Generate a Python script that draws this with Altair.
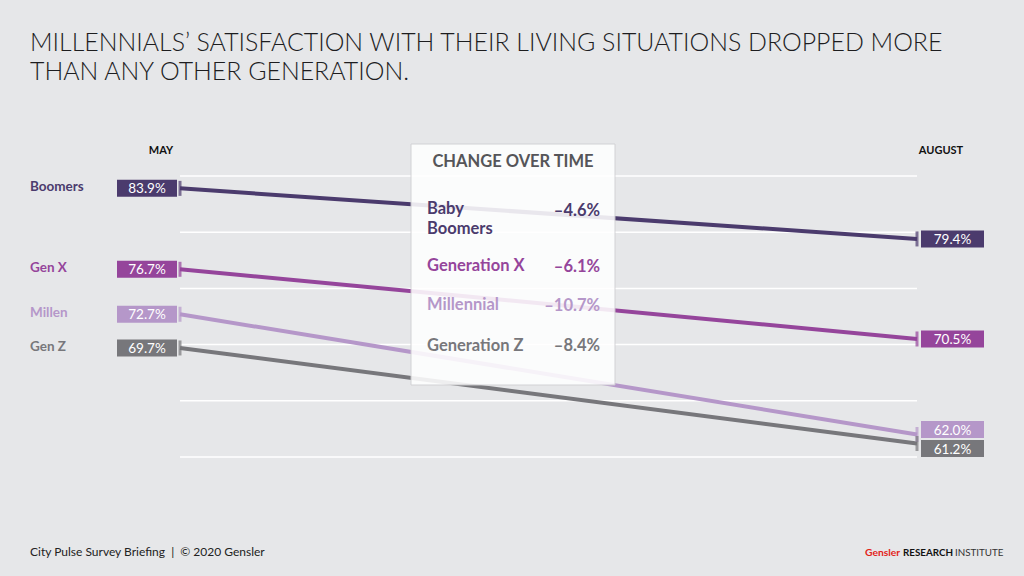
import altair as alt
import pandas as pd

# ---------------- data ----------------
generations = ["Boomers", "Gen X", "Millen", "Gen Z"]
legend_names = ["Baby\nBoomers", "Generation X", "Millennial", "Generation Z"]
may_values = [83.9, 76.7, 72.7, 69.7]
august_values = [79.4, 70.5, 62.0, 61.2]
change_labels = ["–4.6%", "–6.1%", "–10.7%", "–8.4%"]
period_labels = ["MAY", "AUGUST"]
grid_values = [85, 80, 75, 70, 65, 60]
colors = ["#4b3b6d", "#95459b", "#b597c9", "#77777b"]

title_lines = [
    "MILLENNIALS’ SATISFACTION WITH THEIR LIVING SITUATIONS DROPPED MORE",
    "THAN ANY OTHER GENERATION.",
]
legend_title = "CHANGE OVER TIME"
footer_left = "City Pulse Survey Briefing  |  © 2020 Gensler"
footer_right = ["Gensler", "RESEARCH", "INSTITUTE"]

# ---------------- layout helpers ----------------
W, H = 1024, 576
X0, X1 = 180, 917          # pixel range of the two periods
Y_TOP, Y_BOT = 176, 457    # pixel range of the value domain
FONT = "Lato"
BG = "#e6e7e9"

px_x = 1.0 / (X1 - X0)                       # period units per pixel
px_y = (max(grid_values) - min(grid_values)) / (Y_BOT - Y_TOP)  # value units per pixel

rows = []
for g, a, b in zip(generations, may_values, august_values):
    rows.append({"gen": g, "period": 0, "value": a})
    rows.append({"gen": g, "period": 1, "value": b})
df = pd.DataFrame(rows)
df["label"] = df["value"].map(lambda v: f"{v:.1f}%")

# simple label de-overlap (label centre positions, lines stay on true values)
min_gap = 19 * px_y
df["label_pos"] = df["value"]
for p in (0, 1):
    sub = df[df.period == p].sort_values("value", ascending=False)
    idx = list(sub.index)
    for i in range(1, len(idx)):
        a, b = idx[i - 1], idx[i]
        gap = df.at[a, "label_pos"] - df.at[b, "label_pos"]
        if gap < min_gap:
            mid = (df.at[a, "label_pos"] + df.at[b, "label_pos"]) / 2
            df.at[a, "label_pos"] = mid + min_gap / 2
            df.at[b, "label_pos"] = mid - min_gap / 2

box_h = 17 * px_y
left_box = (-63 * px_x, -3 * px_x)
right_box = (4 * px_x, 67 * px_x)

xs = alt.Scale(domain=[0, 1], range=[X0, X1])
ys = alt.Scale(domain=[min(grid_values), max(grid_values)], range=[Y_BOT, Y_TOP])
cs = alt.Scale(domain=generations, range=colors)

base = alt.Chart(df)

grid = alt.Chart(pd.DataFrame({"g": grid_values, "a": 0, "b": 1})).mark_rule(
    color="white", strokeWidth=1.5
).encode(
    y=alt.Y("g:Q", scale=ys, axis=None),
    x=alt.X("a:Q", scale=xs, axis=None),
    x2="b:Q",
)

lines = base.mark_line(strokeWidth=4, strokeCap="butt").encode(
    x=alt.X("period:Q", scale=xs, axis=None),
    y=alt.Y("value:Q", scale=ys, axis=None),
    color=alt.Color("gen:N", scale=cs, legend=None),
    detail="gen:N",
)

caps = base.mark_tick(orient="vertical", size=15, thickness=3).encode(
    x=alt.X("period:Q", scale=xs),
    y=alt.Y("value:Q", scale=ys),
    color=alt.Color("gen:N", scale=cs, legend=None),
)

boxes = base.transform_calculate(
    bx0=f"datum.period == 0 ? {left_box[0]} : 1 + {right_box[0]}",
    bx1=f"datum.period == 0 ? {left_box[1]} : 1 + {right_box[1]}",
    by0=f"datum.label_pos - {box_h / 2}",
    by1=f"datum.label_pos + {box_h / 2}",
).transform_calculate(
    bxc="(datum.bx0 + datum.bx1) / 2",
)

value_boxes = boxes.mark_rect().encode(
    x=alt.X("bx0:Q", scale=xs),
    x2="bx1:Q",
    y=alt.Y("by0:Q", scale=ys),
    y2="by1:Q",
    color=alt.Color("gen:N", scale=cs, legend=None),
)

value_text = boxes.mark_text(
    font=FONT, fontSize=13.5, color="white", baseline="middle", dy=1
).encode(
    x=alt.X("bxc:Q", scale=xs),
    y=alt.Y("label_pos:Q", scale=ys),
    text="label:N",
)

left_names = base.transform_filter("datum.period == 0").mark_text(
    font=FONT, fontSize=13.5, fontWeight="bold", align="left", baseline="middle", dy=-1
).encode(
    x=alt.value(30),
    y=alt.Y("label_pos:Q", scale=ys),
    text="gen:N",
    color=alt.Color("gen:N", scale=cs, legend=None),
)

period_df = pd.DataFrame({"period": [0, 1], "name": period_labels})
period_text = alt.Chart(period_df).transform_calculate(
    px=f"datum.period == 0 ? {-19 * px_x} : 1 + {24 * px_x}"
).mark_text(
    font=FONT, fontSize=11, fontWeight="bold", color="#111", baseline="middle"
).encode(
    x=alt.X("px:Q", scale=xs),
    y=alt.value(151),
    text="name:N",
)

# ---- change-over-time panel ----
panel = alt.Chart(pd.DataFrame({"a": [0]})).mark_rect(
    fill="white", opacity=0.88, stroke="#cfcfd2", strokeWidth=1
).encode(
    x=alt.value(411), x2=alt.value(615), y=alt.value(144), y2=alt.value(385)
)
panel_title = alt.Chart(pd.DataFrame({"t": [legend_title]})).mark_text(
    font=FONT, fontSize=16.5, fontWeight="bold", color="#555559", baseline="middle"
).encode(x=alt.value(513), y=alt.value(162), text="t:N")

name_y = [209, 266, 305, 346]
value_y = [211, 267, 306, 346]
panel_layers = []
for name, chg, col, ny, vy in zip(legend_names, change_labels, colors, name_y, value_y):
    d = pd.DataFrame({"n": [name], "c": [chg]})
    panel_layers.append(
        alt.Chart(d).mark_text(
            font=FONT, fontSize=16.5, fontWeight="bold", color=col, align="left",
            baseline="middle", lineBreak="\n", lineHeight=20
        ).encode(x=alt.value(427), y=alt.value(ny), text="n:N")
    )
    panel_layers.append(
        alt.Chart(d).mark_text(
            font=FONT, fontSize=16.5, fontWeight="bold", color=col, align="right",
            baseline="middle"
        ).encode(x=alt.value(600), y=alt.value(vy), text="c:N")
    )

# ---- title & footer ----
title_layers = []
for t, y in zip(title_lines, [51, 80]):
    title_layers.append(
        alt.Chart(pd.DataFrame({"t": [t]})).mark_text(
            font=FONT, fontSize=24.9, fontWeight=300, color="#1d1d1f", align="left",
            baseline="alphabetic"
        ).encode(x=alt.value(30), y=alt.value(y), text="t:N")
    )

footer = alt.Chart(pd.DataFrame({"t": [footer_left.replace("  ", "\u00a0 ")]})).mark_text(
    font=FONT, fontSize=12, color="#222", align="left", baseline="alphabetic"
).encode(x=alt.value(30), y=alt.value(556), text="t:N")

fr_x = [865, 903, 955]
fr_col = ["#e2231a", "#111", "#333"]
fr_w = ["bold", "bold", "normal"]
fr_size = [10.3, 9.8, 9.8]
footer_r = []
for t, x, c, w, s in zip(footer_right, fr_x, fr_col, fr_w, fr_size):
    footer_r.append(
        alt.Chart(pd.DataFrame({"t": [t]})).mark_text(
            font=FONT, fontSize=s, color=c, fontWeight=w, align="left",
            baseline="alphabetic"
        ).encode(x=alt.value(x), y=alt.value(556), text="t:N")
    )

chart = alt.layer(
    grid, lines, caps, value_boxes, value_text, left_names, period_text,
    panel, panel_title, *panel_layers, *title_layers, footer, *footer_r
).properties(
    width=W, height=H, padding=0, autosize="none", background=BG
).configure_view(stroke=None)

chart.save("out.html", embed_options={"renderer": "svg", "actions": False})
